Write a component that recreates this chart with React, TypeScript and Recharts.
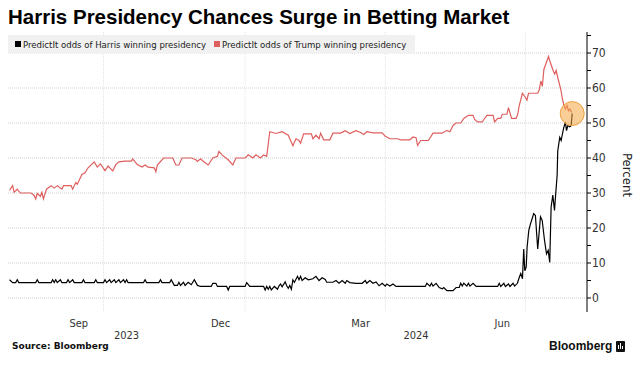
import { LineChart, Line, XAxis, YAxis, CartesianGrid, ReferenceDot } from 'recharts';

// x values are days since 2023-08-01
const monthTicks = [45, 137, 228, 320];
const monthLabels = ['Sep', 'Dec', 'Mar', 'Jun'];
const yearTicks = [76, 264];
const yearLabels = ['2023', '2024'];
const quarterStarts = [61, 153, 244, 335];
const pctTicks = [0, 5, 10, 15, 20, 25, 30, 35, 40, 45, 50, 55, 60, 65, 70, 75];
const pctGrid = [0, 10, 20, 30, 40, 50, 60, 70];

const trumpDays = [
  0, 2, 3, 5, 7, 14, 16, 17, 18, 20, 21, 22, 24, 27, 29, 31, 34, 35, 40, 41, 43, 44, 47, 49, 51, 55, 57, 59,
  62, 64, 67, 69, 71, 75, 79, 80, 83, 86, 88, 90, 94, 95, 96, 100, 106, 108, 110, 112, 118, 121, 122, 124,
  126, 129, 132, 135, 136, 138, 142, 145, 147, 153, 155, 158, 160, 163, 165, 167, 168, 169, 173, 177, 181,
  184, 186, 188, 189, 191, 196, 197, 199, 201, 202, 204, 208, 210, 215, 218, 221, 225, 228, 230, 232, 236,
  242, 244, 247, 252, 254, 260, 262, 264, 265, 267, 272, 275, 281, 284, 286, 288, 290, 293, 295, 298, 301,
  302, 304, 307, 308, 310, 314, 315, 317, 319, 320, 323, 324, 326, 329, 330, 331, 332, 333, 334, 336, 337,
  343, 344, 345, 346, 347, 350, 351, 353, 354, 355, 356, 358, 359, 360, 361, 362, 363, 364, 365,
];
const trumpPct = [
  30.7, 32.1, 30.2, 31.1, 30, 30, 29.3, 28.3, 29.9, 29, 30.2, 28.3, 31.1, 32.1, 31.4, 32.1, 31.1, 32.1, 32.1,
  31.1, 33, 32.5, 35.3, 35.8, 37.2, 38.9, 37.4, 38.3, 36.4, 37.7, 36.3, 38.1, 38.9, 39.1, 39.1, 39.7, 38.1,
  37.4, 38, 37.4, 37.2, 36.1, 38, 40, 40, 38, 38, 40, 40, 39.5, 39, 39.8, 39, 38, 40, 40.5, 41.9, 40.9, 39.5,
  38, 40, 40, 40.9, 40, 40.9, 40, 40.9, 40.5, 44, 47.5, 47, 47.5, 46.5, 43.5, 45.5, 45, 44.2, 46.9, 46.9,
  45.5, 46.5, 45.5, 47.1, 45.2, 45.2, 47.1, 47.1, 47.8, 47, 47.8, 47.3, 46.7, 47.5, 47.2, 47.2, 46.2, 45.5,
  45.5, 45.2, 45.2, 46, 45.8, 43.6, 45, 45, 47.1, 47.1, 47.9, 47.5, 49.3, 50, 50, 51.3, 52.2, 52.2, 51, 50.3,
  50.3, 51, 52.2, 52.2, 50.3, 51.3, 51.3, 52.5, 52.5, 54.4, 51.3, 51.3, 52.5, 55, 56.6, 58.5, 58, 56.5, 58.5,
  58.5, 59.5, 62, 60.5, 65.3, 69, 67.5, 65, 64, 65, 63, 59.5, 57, 55, 54, 55, 53.5, 54, 53,
];

const harrisDays = [
  0, 2, 4, 5, 6, 17, 18, 19, 27, 28, 29, 30, 31, 33, 34, 37, 38, 39, 41, 42, 47, 48, 49, 55, 56, 57, 61, 62,
  63, 65, 66, 68, 69, 71, 72, 74, 75, 76, 77, 87, 88, 89, 97, 98, 99, 104, 105, 106, 107, 109, 110, 111, 113,
  114, 116, 118, 120, 122, 124, 131, 132, 134, 135, 141, 142, 143, 153, 154, 156, 165, 166, 167, 168, 169,
  170, 172, 174, 175, 176, 177, 179, 180, 181, 182, 183, 184, 185, 187, 188, 189, 190, 192, 194, 197, 199,
  201, 203, 205, 206, 210, 212, 214, 216, 218, 219, 221, 225, 229, 231, 232, 234, 236, 238, 240, 242, 244,
  245, 247, 249, 251, 270, 271, 273, 274, 275, 277, 279, 281, 282, 284, 288, 290, 292, 293, 294, 295, 297,
  298, 299, 301, 303, 317, 318, 319, 321, 322, 324, 325, 327, 328, 329.8, 331.1, 332, 333.1, 333.9, 334.6,
  335.5, 336.1, 337.2, 338.3, 339.4, 340.4, 341.5, 343, 344.8, 345.9, 347.4, 348.7, 349.8, 350.8, 351.7,
  352.8, 353.9, 354.7, 355.6, 356, 357.3, 358.2, 359.1, 359.9, 361, 361.7, 362.5, 363.8, 364.7, 365.4,
];
const harrisPct = [
  5.2, 4.4, 4.4, 5.2, 4.4, 4.4, 5.2, 4.4, 4.4, 5.2, 4.4, 5.2, 4.4, 5.2, 4.4, 4.4, 5.2, 4.4, 5.2, 4.4, 4.4,
  5.2, 4.4, 4.4, 5.2, 4.4, 4.4, 5.2, 4.4, 5.2, 4.4, 5.2, 4.4, 5.2, 4.4, 5.2, 4.4, 5.2, 4.4, 4.4, 5.2, 4.4,
  4.4, 5.2, 4.4, 4.4, 5.2, 4.4, 3.6, 3.6, 4.5, 3.6, 4.5, 3.6, 4.5, 3.8, 5.2, 3.6, 3.3, 3.3, 4.2, 4.2, 3.3,
  3.3, 2.3, 3.3, 3.3, 4.4, 3.3, 3.3, 2.3, 3.3, 2.5, 3.3, 2.3, 3.3, 2.5, 3.5, 4, 3.2, 4.6, 3.5, 2.8, 3.6, 2.5,
  5.2, 4.5, 6.2, 5.2, 6.2, 5, 5.8, 5.2, 5.5, 6.2, 5, 5.8, 5.3, 4.5, 4.5, 5, 4.2, 5, 4.2, 5, 4.4, 4.2, 4.2, 5,
  4.2, 5, 4.2, 4.6, 3.5, 4.2, 3.4, 4, 3.4, 4, 3.3, 3.3, 4.2, 3.4, 4.2, 3.4, 4.2, 3, 2.6, 3, 2.1, 2.1, 3, 3,
  4.2, 3.4, 4.2, 3.4, 4.2, 3.4, 4.2, 3.3, 3.3, 4.2, 3.3, 4.2, 3.3, 4, 3.3, 4.2, 3.4, 4.2, 6, 7, 5.5, 14, 7.8,
  8.8, 14.5, 19.3, 21.2, 22.7, 24.1, 23.6, 14, 23.2, 22.2, 16.5, 12.6, 13.6, 10.2, 26, 29.4, 25, 29.9, 35,
  42, 45.9, 45, 47, 48.7, 50.2, 47.8, 49.2, 48.9, 49.2, 52.7,
];

const HARRIS_COLOR = '#000000';
const TRUMP_COLOR = '#df5f5f';
const AXIS_FONT = "'DejaVu Sans Condensed', 'Liberation Sans Narrow', 'DejaVu Sans', sans-serif";

function buildRows() {
  const rows = new Map<number, { day: number; harris?: number; trump?: number }>();
  trumpDays.forEach((d, i) => {
    const r = rows.get(d) || { day: d };
    r.trump = trumpPct[i];
    rows.set(d, r);
  });
  harrisDays.forEach((d, i) => {
    const r = rows.get(d) || { day: d };
    r.harris = harrisPct[i];
    rows.set(d, r);
  });
  return Array.from(rows.values()).sort((a, b) => a.day - b.day);
}

const MonthTick = (props: any) => {
  const { x, y, payload } = props;
  const idx = monthTicks.indexOf(payload.value);
  return (
    <text x={x} y={y + 15} textAnchor="middle" fontSize={11} fill="#333" fontFamily={AXIS_FONT}>
      {monthLabels[idx]}
    </text>
  );
};

const YearTick = (props: any) => {
  const { x, y, payload } = props;
  const idx = yearTicks.indexOf(payload.value);
  return (
    <text x={x} y={y + 9} textAnchor="middle" fontSize={11} fill="#333" fontFamily={AXIS_FONT}>
      {yearLabels[idx]}
    </text>
  );
};

const PctTick = (props: any) => {
  const { x, y, payload } = props;
  if (payload.value % 10 !== 0) return <g />;
  return (
    <text x={x + 1} y={y} dy={4} textAnchor="start" fontSize={12} fill="#333" fontFamily={AXIS_FONT}>
      {payload.value}
    </text>
  );
};

const swatch = (color: string, left: number) => (
  <span
    style={{
      display: 'inline-block',
      flexShrink: 0,
      width: 6,
      height: 6,
      background: color,
      marginLeft: left,
      marginRight: 2,
    }}
  />
);

export default function App() {
  const data = buildRows();
  const lastDay = harrisDays[harrisDays.length - 1];
  const lastHarris = harrisPct[harrisPct.length - 1];

  return (
    <div
      style={{
        position: 'absolute',
        left: 0,
        top: 0,
        width: 633,
        height: 365,
        background: '#fff',
        fontFamily: "'Liberation Sans', Arial, sans-serif",
        overflow: 'hidden',
      }}
    >
      <LineChart
        width={633}
        height={365}
        data={data}
        margin={{ top: 32, right: 0, bottom: 0, left: 8 }}
        style={{ position: 'absolute', left: 0, top: 0 }}
      >
        <CartesianGrid
          vertical={false}
          horizontalValues={pctGrid}
          stroke="#cfcfcf"
          strokeDasharray="1 1"
        />
        <CartesianGrid
          horizontal={false}
          verticalValues={quarterStarts}
          stroke="#e4e4e4"
          strokeDasharray="1 1"
        />
        <XAxis
          dataKey="day"
          type="number"
          domain={[-1, 375]}
          ticks={monthTicks}
          tick={<MonthTick />}
          axisLine={false}
          tickLine={false}
          tickSize={0}
          tickMargin={0}
          height={18}
          allowDataOverflow
        />
        <XAxis
          xAxisId="year"
          dataKey="day"
          type="number"
          domain={[-1, 375]}
          ticks={yearTicks}
          tick={<YearTick />}
          axisLine={false}
          tickLine={false}
          tickSize={0}
          tickMargin={0}
          height={35}
          allowDataOverflow
        />
        <YAxis
          orientation="right"
          type="number"
          domain={[-4, 76]}
          ticks={pctTicks}
          interval={0}
          width={46}
          axisLine={{ stroke: '#000', strokeWidth: 1 }}
          tickLine={{ stroke: '#000', strokeWidth: 1 }}
          tickSize={4}
          tickMargin={0}
          tick={<PctTick />}
          allowDataOverflow
        />
        <Line
          dataKey="trump"
          type="linear"
          stroke={TRUMP_COLOR}
          strokeWidth={1.2}
          dot={false}
          connectNulls
          isAnimationActive={false}
        />
        <Line
          dataKey="harris"
          type="linear"
          stroke={HARRIS_COLOR}
          strokeWidth={1.2}
          dot={false}
          connectNulls
          isAnimationActive={false}
        />
        <ReferenceDot
          x={lastDay}
          y={lastHarris}
          r={12}
          fill="#f5a742"
          fillOpacity={0.55}
          stroke="#f0a040"
          strokeWidth={1}
        />
      </LineChart>

      <div
        style={{
          position: 'absolute',
          left: 8,
          top: 5,
          fontSize: 20.5,
          fontWeight: 'bold',
          color: '#000',
          whiteSpace: 'nowrap',
        }}
      >
        Harris Presidency Chances Surge in Betting Market
      </div>

      <div
        style={{
          position: 'absolute',
          left: 8,
          top: 35,
          width: 407,
          height: 18,
          background: '#f1f1f1',
          display: 'flex',
          alignItems: 'center',
          fontSize: 9.5,
          color: '#222',
          fontFamily: AXIS_FONT,
          whiteSpace: 'nowrap',
        }}
      >
        {swatch(HARRIS_COLOR, 7)}
        <span>PredictIt odds of Harris winning presidency</span>
        {swatch(TRUMP_COLOR, 8)}
        <span>PredictIt odds of Trump winning presidency</span>
      </div>

      <div
        style={{
          position: 'absolute',
          left: 627,
          top: 175,
          fontSize: 13,
          color: '#222',
          fontFamily: AXIS_FONT,
          transform: 'translate(-50%, -50%) rotate(90deg)',
          whiteSpace: 'nowrap',
        }}
      >
        Percent
      </div>

      <div
        style={{
          position: 'absolute',
          left: 12,
          top: 341,
          fontSize: 9,
          fontWeight: 'bold',
          color: '#111',
          fontFamily: "'DejaVu Sans', sans-serif",
          whiteSpace: 'nowrap',
        }}
      >
        Source: Bloomberg
      </div>

      <div
        style={{
          position: 'absolute',
          left: 549,
          top: 339,
          fontSize: 12,
          fontWeight: 'bold',
          color: '#111',
          whiteSpace: 'nowrap',
        }}
      >
        Bloomberg
      </div>
      <svg width={9} height={11} style={{ position: 'absolute', left: 616, top: 341 }}>
        <rect x={0} y={0} width={9} height={11} rx={1} fill="#111" />
        <rect x={2} y={4} width={1} height={4} fill="#fff" />
        <rect x={4} y={2} width={1} height={6} fill="#fff" />
        <rect x={6} y={5} width={1} height={3} fill="#fff" />
      </svg>
    </div>
  );
}
